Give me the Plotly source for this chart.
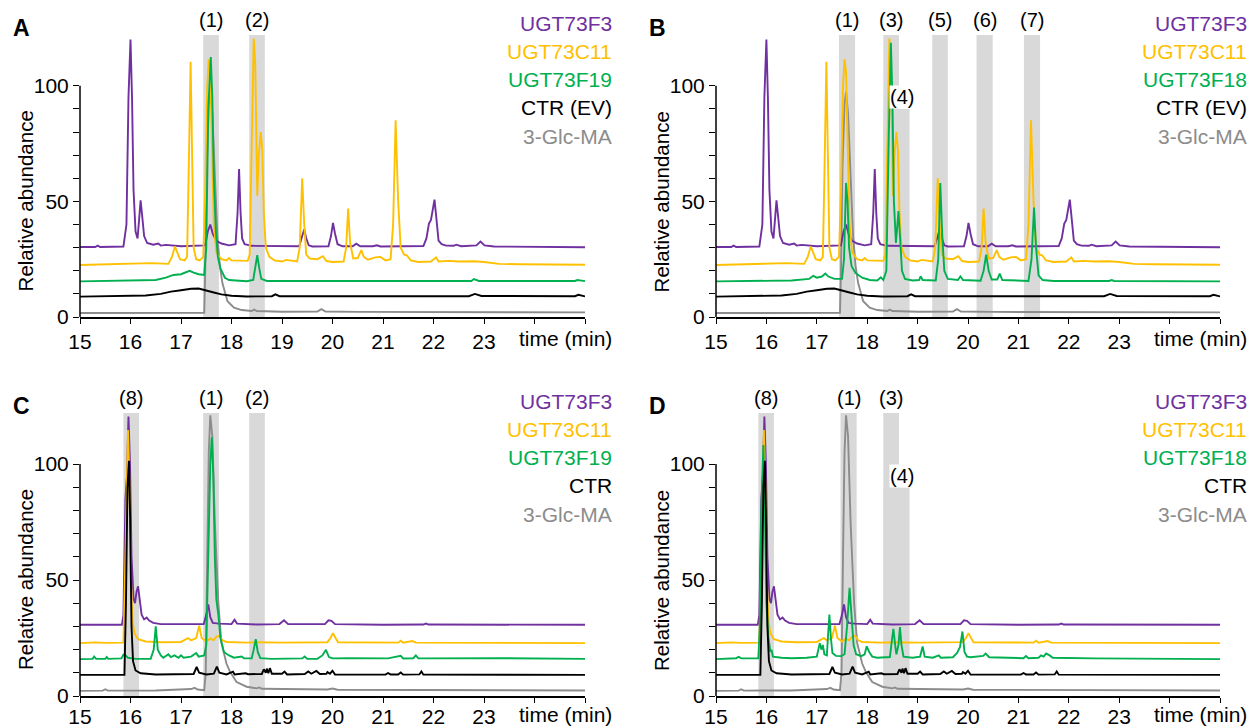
import plotly.graph_objects as go

# ---------------- axis ticks ----------------
TIME_TICKS = list(range(15, 26))
TIME_TICK_TEXT = [str(t) for t in range(15, 24)] + ["", ""]
ABUND_TICKS = list(range(0, 101, 10))
ABUND_TICK_TEXT = ["0", "", "", "", "", "50", "", "", "", "", "100"]

# ---------------- chromatogram points (time min, relative abundance incl. offset) ----------------
# Panels A & B share UGT73F3, UGT73C11, CTR (EV) and 3-Glc-MA traces
F3_AB = [(15.0, 30.3), (15.3, 30.3), (15.35, 30.9), (15.4, 30.3), (15.86, 30.5), (15.92, 40), (15.96, 95),
         (16.0, 120), (16.03, 95), (16.06, 55), (16.1, 37), (16.14, 34), (16.17, 42), (16.2, 50.5),
         (16.23, 44), (16.27, 35), (16.33, 32), (16.45, 31.3), (16.55, 31.8), (16.6, 30.9), (16.7, 31.2),
         (17.0, 30.6), (17.48, 31), (17.53, 37), (17.58, 40), (17.63, 36), (17.7, 33), (17.8, 31.8),
         (17.95, 31), (18.08, 31.5), (18.12, 45), (18.15, 64), (18.18, 45), (18.21, 34), (18.26, 31.5),
         (18.4, 30.8), (19.34, 30.6), (19.4, 35), (19.44, 38), (19.48, 34), (19.53, 31), (19.6, 30.5),
         (19.92, 30.6), (19.97, 35), (20.01, 40.7), (20.05, 36), (20.1, 31.5), (20.2, 30.6), (20.4, 30.6),
         (20.47, 31.7), (20.55, 30.6), (20.8, 30.6), (20.88, 31), (20.95, 30.5), (21.8, 30.7), (21.86, 34),
         (21.91, 40.4), (21.95, 42), (21.99, 48), (22.02, 50.8), (22.06, 42), (22.1, 33), (22.16, 31.5),
         (22.25, 30.9), (22.4, 30.8), (22.45, 31.3), (22.55, 30.6), (22.85, 31), (22.93, 32.6), (23.01, 31),
         (23.2, 30.5), (24.0, 30.4), (25.0, 30.2)]

C11_AB = [(15.0, 22.5), (15.5, 22.8), (16.0, 22.8), (16.4, 23.3), (16.75, 23.0), (16.82, 26), (16.88, 30.5),
          (16.93, 28), (16.98, 25), (17.07, 24.5), (17.12, 26), (17.15, 60), (17.19, 110.4), (17.22, 70),
          (17.25, 30), (17.3, 25), (17.37, 24.5), (17.44, 26), (17.48, 55), (17.52, 100), (17.55, 111.5),
          (17.58, 106), (17.61, 80), (17.65, 40), (17.7, 28), (17.8, 25), (17.9, 24.5), (17.95, 25.5),
          (18.0, 24.5), (18.32, 24.3), (18.36, 27), (18.4, 70), (18.44, 120.5), (18.47, 110), (18.49, 70),
          (18.51, 52.5), (18.54, 70), (18.58, 80), (18.61, 72), (18.64, 45), (18.68, 30), (18.75, 26),
          (18.85, 24.5), (19.0, 24), (19.08, 24.7), (19.3, 24), (19.35, 30), (19.4, 60), (19.44, 40),
          (19.48, 27), (19.55, 25.3), (19.7, 25), (19.81, 26.3), (19.88, 24.2), (20.0, 23.8), (20.22, 24),
          (20.27, 30), (20.31, 46.9), (20.35, 32), (20.41, 25.3), (20.5, 25.5), (20.57, 28.9), (20.62, 26),
          (20.7, 24.8), (20.85, 25.8), (20.95, 26), (21.05, 24.5), (21.15, 25), (21.2, 40), (21.25, 85.1),
          (21.3, 50), (21.35, 30), (21.42, 27), (21.47, 26.7), (21.55, 24.5), (21.7, 23.8), (21.95, 24),
          (22.05, 25.8), (22.1, 24), (22.3, 24.3), (22.5, 24), (22.8, 24.1), (23.0, 23.8), (23.3, 23),
          (23.7, 22.8), (24.2, 22.7), (25.0, 22.6)]

CTR_AB = [(15.0, 8.8), (15.5, 8.9), (16.0, 9.0), (16.3, 9.3), (16.6, 10), (16.8, 11), (17.0, 11.6),
          (17.2, 12.2), (17.35, 12.3), (17.5, 11.6), (17.65, 10.6), (17.8, 9.8), (18.0, 9.2), (18.3, 8.9),
          (18.8, 9.0), (18.87, 9.8), (18.95, 9.0), (20.8, 9.0), (22.7, 9.0), (22.82, 10), (22.95, 9.1),
          (24.8, 9.0), (24.87, 9.6), (25.0, 8.9)]

GLC_AB = [(15.0, 1.7), (17.0, 1.8), (17.46, 1.8), (17.48, 20), (17.51, 65), (17.55, 92), (17.58, 97.5),
          (17.62, 88), (17.66, 66), (17.72, 35), (17.77, 22), (17.82, 14.7), (17.92, 6.8), (18.05, 4),
          (18.2, 3), (18.4, 2.6), (18.45, 3.2), (18.5, 2.6), (19.0, 2.3), (19.7, 2.4), (19.78, 3.4),
          (19.86, 2.4), (20.5, 2.2), (25.0, 2.0)]

# Panel A: UGT73F19
F19_A = [(15.0, 15.4), (15.5, 15.5), (16.0, 15.6), (16.5, 16), (16.7, 17), (16.85, 18.2), (17.0, 18.5),
         (17.1, 19.5), (17.17, 20), (17.25, 19.2), (17.35, 18.5), (17.46, 18.2), (17.5, 30), (17.54, 90),
         (17.59, 112.5), (17.62, 95), (17.65, 60), (17.69, 37), (17.73, 26), (17.78, 21), (17.87, 17),
         (17.95, 16), (18.3, 15.5), (18.43, 16), (18.47, 22), (18.51, 26.8), (18.55, 21), (18.59, 16.5),
         (18.7, 15.6), (22.75, 15.6), (22.8, 16.4), (22.9, 15.6), (24.8, 15.6), (24.85, 16), (25.0, 15.5)]

# Panel B: UGT73F18
F18_B = [(15.0, 15.4), (16.0, 15.5), (16.5, 15.8), (16.85, 16.5), (16.93, 17.8), (17.0, 17), (17.1, 17.5),
         (17.17, 18.8), (17.23, 17.5), (17.35, 16.5), (17.5, 16.5), (17.54, 25), (17.56, 45), (17.58, 58),
         (17.61, 50), (17.64, 30), (17.69, 22), (17.77, 19), (17.9, 17), (18.05, 16), (18.2, 15.8),
         (18.27, 17.2), (18.32, 16), (18.38, 20), (18.43, 80), (18.47, 118.6), (18.5, 95), (18.53, 50),
         (18.57, 32), (18.6, 40), (18.62, 45.8), (18.65, 35), (18.69, 20), (18.75, 16.5), (18.9, 15.8),
         (19.03, 16), (19.06, 17.6), (19.1, 16), (19.36, 15.8), (19.41, 25), (19.45, 58), (19.49, 35),
         (19.53, 20), (19.6, 16.5), (19.8, 16), (19.85, 17.6), (19.9, 16), (20.25, 15.7), (20.31, 20),
         (20.36, 27), (20.41, 20), (20.47, 16.2), (20.58, 16.2), (20.63, 18.8), (20.68, 16), (21.2, 15.6),
         (21.26, 25), (21.31, 47.3), (21.35, 30), (21.4, 18), (21.48, 16), (21.7, 15.6), (22.8, 15.6),
         (22.85, 16), (22.9, 15.6), (25.0, 15.4)]

# Panels C & D share UGT73F3, UGT73C11, CTR and 3-Glc-MA traces
F3_CD = [(15.0, 30.7), (15.5, 30.8), (15.83, 30.7), (15.86, 35), (15.9, 85), (15.93, 95), (15.96, 120.5),
         (15.99, 100), (16.02, 60), (16.06, 42), (16.09, 40), (16.12, 45), (16.15, 47.3), (16.18, 42),
         (16.22, 35), (16.27, 33), (16.32, 33.8), (16.37, 32.5), (16.45, 31.5), (16.6, 31), (17.0, 30.9),
         (17.45, 31), (17.5, 35), (17.54, 39.5), (17.58, 34), (17.63, 31.5), (17.75, 31.2), (18.0, 31),
         (18.06, 32.9), (18.11, 31.2), (18.5, 30.8), (18.95, 31), (19.04, 32.6), (19.12, 31), (19.85, 31),
         (19.92, 32.6), (19.98, 32.4), (20.05, 31), (21.0, 30.7), (21.8, 30.8), (21.85, 31.2), (21.9, 30.8),
         (25.0, 30.7)]

C11_CD = [(15.0, 22.8), (15.3, 23.1), (15.5, 22.9), (15.86, 23), (15.9, 60), (15.95, 114.7), (15.98, 90),
          (16.01, 50), (16.04, 32), (16.08, 27), (16.15, 24.5), (16.3, 23.5), (16.6, 23.2), (17.0, 23.3),
          (17.14, 25), (17.2, 24), (17.3, 25), (17.36, 30.3), (17.41, 25), (17.5, 23.5), (17.58, 24.8),
          (17.64, 24), (17.7, 25.5), (17.76, 26), (17.82, 24), (17.9, 23.3), (18.3, 23), (18.5, 23.2),
          (19.0, 23), (19.5, 23), (19.9, 23.2), (19.96, 25), (20.01, 27.1), (20.06, 25), (20.11, 23.2),
          (21.3, 23), (21.35, 23.8), (21.4, 23), (21.58, 23.7), (21.65, 23), (25.0, 22.8)]

CTR_CD = [(15.0, 9.1), (15.5, 9.2), (15.88, 9.1), (15.91, 40), (15.94, 90), (15.97, 101.4), (15.99, 80),
          (16.02, 30), (16.05, 15), (16.1, 11), (16.2, 9.8), (16.5, 9.3), (17.0, 9.4), (17.25, 9.5),
          (17.31, 12.5), (17.36, 10), (17.5, 9.3), (17.65, 9.6), (17.71, 12.7), (17.76, 10), (17.9, 9.3),
          (18.03, 10.5), (18.06, 9.3), (18.28, 9.8), (18.33, 9.4), (18.6, 9.5), (18.64, 11.5), (18.68, 10),
          (18.7, 11.8), (18.73, 9.8), (18.76, 12), (18.8, 9.6), (19.0, 9.6), (19.05, 10.5), (19.1, 9.3),
          (19.45, 9.5), (19.52, 10.6), (19.58, 9.6), (19.68, 10.8), (19.75, 9.5), (19.88, 9.6), (19.9, 10.3),
          (19.95, 9.6), (20.0, 10.9), (20.05, 9.3), (21.05, 9.2), (21.1, 9.9), (21.15, 9.3), (21.3, 9.3),
          (21.35, 10.1), (21.4, 9.2), (21.72, 9.3), (21.76, 10.6), (21.8, 9.2), (25.0, 9.1)]

GLC_CD = [(15.0, 2.2), (15.45, 2.3), (15.5, 2.9), (15.55, 2.3), (16.5, 2.4), (17.0, 2.6), (17.2, 3.0),
          (17.27, 3.5), (17.33, 2.8), (17.46, 2.5), (17.49, 10), (17.52, 60), (17.55, 105), (17.58, 121),
          (17.62, 112), (17.67, 75), (17.74, 40), (17.8, 23), (17.9, 14), (17.97, 10.5), (18.1, 6),
          (18.3, 4), (18.5, 3.3), (18.55, 3.7), (18.6, 3.1), (19.9, 2.8), (20.0, 3.2), (20.1, 2.7),
          (25.0, 2.4)]

# Panel C: UGT73F19
F19_C = [(15.0, 15.9), (15.25, 16), (15.28, 17), (15.32, 16), (15.5, 16), (15.53, 16.8), (15.56, 16),
         (15.82, 16.2), (15.86, 17.8), (15.9, 17.5), (15.95, 16.5), (16.1, 16), (16.4, 16), (16.46, 20),
         (16.5, 30), (16.54, 20), (16.6, 17.5), (16.65, 16.5), (16.75, 18), (16.8, 16.8), (16.87, 17.5),
         (16.95, 16.5), (17.0, 17.5), (17.05, 16.5), (17.2, 17), (17.3, 18.5), (17.35, 17), (17.46, 17.5),
         (17.5, 22), (17.54, 60), (17.58, 100), (17.61, 111.5), (17.64, 95), (17.67, 60), (17.7, 41.6),
         (17.74, 35), (17.78, 25), (17.85, 19), (17.95, 17.5), (18.05, 16.5), (18.2, 17), (18.25, 16.2),
         (18.4, 16.2), (18.44, 20), (18.48, 24.5), (18.52, 19), (18.57, 16.3), (18.8, 16), (19.4, 16.2),
         (19.45, 17), (19.5, 16), (19.7, 16), (19.8, 17.5), (19.87, 19.9), (19.93, 16.8), (20.0, 16.2),
         (20.3, 16.3), (21.1, 16.2), (21.35, 17.3), (21.4, 16.2), (21.6, 16.3), (21.65, 17.5), (21.7, 16.2),
         (23.35, 16.3), (25.0, 16.0)]

# Panel D: UGT73F18
F18_D = [(15.0, 15.9), (15.4, 16.3), (15.45, 16.9), (15.5, 16.2), (15.84, 16.2), (15.87, 30), (15.9, 80),
         (15.94, 108.2), (15.97, 80), (16.0, 40), (16.04, 25), (16.08, 19), (16.1, 20), (16.13, 17),
         (16.3, 16.5), (16.5, 16.3), (16.8, 16.5), (17.0, 17), (17.03, 20), (17.06, 22.8), (17.09, 20),
         (17.12, 22), (17.15, 18), (17.2, 17.5), (17.22, 25), (17.25, 35.1), (17.28, 25), (17.31, 18.5),
         (17.38, 17.3), (17.48, 17.2), (17.55, 18), (17.6, 30), (17.65, 46.6), (17.69, 35), (17.73, 22),
         (17.78, 18), (17.88, 17.2), (17.95, 18), (17.99, 21.4), (18.04, 19), (18.1, 17), (18.2, 16.5),
         (18.45, 16.8), (18.49, 24), (18.52, 28.9), (18.56, 21), (18.58, 18), (18.62, 22), (18.65, 29.7),
         (18.68, 22), (18.72, 17), (18.9, 16.5), (19.05, 17), (19.1, 21.4), (19.14, 17), (19.3, 16.5),
         (19.42, 17.5), (19.46, 16.5), (19.7, 16.7), (19.78, 18.5), (19.84, 21), (19.89, 27.8), (19.93, 19),
         (19.98, 17), (20.05, 16.7), (20.3, 17.3), (20.35, 18.3), (20.42, 16.7), (21.1, 16.3), (21.15, 17.2),
         (21.2, 16.3), (21.4, 16.5), (21.45, 17.5), (21.5, 17), (21.55, 18.3), (21.62, 17.5), (21.68, 16.5),
         (22.5, 16.2), (25.0, 15.9)]

# ---------------- highlighted retention windows (start, end, label) ----------------
BANDS_A = [(17.44, 17.75, "(1)"), (18.35, 18.66, "(2)")]
BANDS_B = [(17.44, 17.76, "(1)"), (18.32, 18.63, "(3)"), (19.29, 19.6, "(5)"), (20.17, 20.49, "(6)"),
           (21.11, 21.43, "(7)")]
BANDS_C = [(15.86, 16.17, "(8)"), (17.44, 17.75, "(1)"), (18.35, 18.66, "(2)")]
BANDS_D = [(15.84, 16.15, "(8)"), (17.47, 17.79, "(1)"), (18.32, 18.63, "(3)")]
BAND4_B = (18.32, 18.84, 90, "(4)")
BAND4_D = (18.32, 18.84, 90, "(4)")

LEGEND_A = ["UGT73F3", "UGT73C11", "UGT73F19", "CTR (EV)", "3-Glc-MA"]
LEGEND_B = ["UGT73F3", "UGT73C11", "UGT73F18", "CTR (EV)", "3-Glc-MA"]
LEGEND_C = ["UGT73F3", "UGT73C11", "UGT73F19", "CTR", "3-Glc-MA"]
LEGEND_D = ["UGT73F3", "UGT73C11", "UGT73F18", "CTR", "3-Glc-MA"]

# ---------------- styling ----------------
W, H = 1252, 728
FONT = "Arial, 'Liberation Sans', Helvetica, sans-serif"
PURPLE, YELLOW, GREEN, BLACK, GREY = "#7030A0", "#FFC000", "#00B050", "#000000", "#8C8C8C"
LEG_COLORS = [PURPLE, YELLOW, GREEN, BLACK, GREY]
BAND_COLOR = "#D9D9D9"
YMAX = 122

def px(x):
    return x / W

def py(y):
    return 1 - y / H

panels = [
    dict(letter="A", xa="x", ya="y", left=80, right=585, top=35, bottom=317, lab_shift=0, xt_gap=21,
         traces=[(GLC_AB, GREY), (F3_AB, PURPLE), (C11_AB, YELLOW), (F19_A, GREEN), (CTR_AB, BLACK)],
         bands=BANDS_A, band4=None, legend=LEGEND_A),
    dict(letter="B", xa="x2", ya="y2", left=716, right=1220, top=35, bottom=317, lab_shift=0, xt_gap=21,
         traces=[(GLC_AB, GREY), (F3_AB, PURPLE), (C11_AB, YELLOW), (F18_B, GREEN), (CTR_AB, BLACK)],
         bands=BANDS_B, band4=BAND4_B, legend=LEGEND_B),
    dict(letter="C", xa="x3", ya="y3", left=80, right=585, top=413, bottom=696, lab_shift=-4, xt_gap=18,
         traces=[(GLC_CD, GREY), (F3_CD, PURPLE), (C11_CD, YELLOW), (F19_C, GREEN), (CTR_CD, BLACK)],
         bands=BANDS_C, band4=None, legend=LEGEND_C),
    dict(letter="D", xa="x4", ya="y4", left=716, right=1220, top=413, bottom=696, lab_shift=-4, xt_gap=18,
         traces=[(GLC_CD, GREY), (F3_CD, PURPLE), (C11_CD, YELLOW), (F18_D, GREEN), (CTR_CD, BLACK)],
         bands=BANDS_D, band4=BAND4_D, legend=LEGEND_D),
]

fig = go.Figure()
shapes = []
annotations = []
layout_axes = {}

for i, p in enumerate(panels):
    xa, ya = p["xa"], p["ya"]
    xname = "xaxis" if xa == "x" else "xaxis" + xa[1:]
    yname = "yaxis" if ya == "y" else "yaxis" + ya[1:]
    layout_axes[xname] = dict(
        domain=[px(p["left"]), px(p["right"])], anchor=ya, range=[15, 25], automargin=False,
        tickmode="array", tickvals=TIME_TICKS, ticktext=TIME_TICK_TEXT,
        ticks="outside", ticklen=5, tickwidth=1.4, tickcolor="black",
        ticklabelstandoff=p["lab_shift"],
        showline=True, linecolor="black", linewidth=1.5, showgrid=False, zeroline=False,
        tickfont=dict(family=FONT, size=21, color="black"), fixedrange=True,
    )
    layout_axes[yname] = dict(
        domain=[py(p["bottom"]), py(p["top"])], anchor=xa, range=[0, YMAX], automargin=False,
        tickmode="array", tickvals=ABUND_TICKS, ticktext=ABUND_TICK_TEXT,
        ticks="outside", ticklen=6, tickwidth=1.4, tickcolor="black",
        showline=False, showgrid=False, zeroline=False,
        tickfont=dict(family=FONT, size=21, color="black"), fixedrange=True,
    )
    # y axis line only from 0 to 100
    shapes.append(dict(type="line", xref=f"{xa} domain", yref=ya, x0=0, x1=0, y0=0, y1=100,
                       line=dict(color="black", width=1.5), layer="above"))
    # bands
    for (s, e, lab) in p["bands"]:
        shapes.append(dict(type="rect", xref=xa, yref=f"{ya} domain", x0=s, x1=e, y0=0, y1=1,
                           fillcolor=BAND_COLOR, line=dict(width=0), layer="below"))
        annotations.append(dict(x=(s + e) / 2, xref=xa, y=py(p["top"] - 15), yref="paper",
                                text=lab, showarrow=False, xanchor="center", yanchor="middle",
                                font=dict(family=FONT, size=20, color="black")))
    if p["band4"] is not None:
        s, e, top, lab = p["band4"]
        shapes.append(dict(type="rect", xref=xa, yref=ya, x0=s, x1=e, y0=0, y1=top,
                           fillcolor=BAND_COLOR, line=dict(width=0), layer="below"))
        annotations.append(dict(x=18.69, xref=xa, y=top + 5, yref=ya, text=lab, showarrow=False,
                                xanchor="center", yanchor="middle", bgcolor="white", borderpad=0,
                                font=dict(family=FONT, size=20, color="black")))
    # traces
    for pts, col in p["traces"]:
        t = [a for a, _ in pts]
        v = [b for _, b in pts]
        fig.add_trace(go.Scatter(x=t, y=v, mode="lines", xaxis=xa, yaxis=ya,
                                 line=dict(color=col, width=1.9), showlegend=False, hoverinfo="skip"))
    # panel letter
    annotations.append(dict(x=px(p["left"] - 59), y=py(p["top"] - 7), xref="paper", yref="paper",
                            text=f"<b>{p['letter']}</b>", showarrow=False, xanchor="center",
                            yanchor="middle", font=dict(family=FONT, size=23, color="black")))
    # y title
    y100 = p["bottom"] - 100 * (p["bottom"] - p["top"]) / YMAX
    annotations.append(dict(x=px(p["left"] - 55), y=py((p["bottom"] + y100) / 2),
                            xref="paper", yref="paper", text="Relative abundance", textangle=-90,
                            showarrow=False, xanchor="center", yanchor="middle",
                            font=dict(family=FONT, size=20.5, color="black")))
    # x title
    annotations.append(dict(x=px(p["right"] + 29), y=py(p["bottom"] + p["xt_gap"]), xref="paper",
                            yref="paper", text="time (min)", showarrow=False, xanchor="right",
                            yanchor="middle", font=dict(family=FONT, size=21, color="black")))
    # legend labels
    for k, (lab, col) in enumerate(zip(p["legend"], LEG_COLORS)):
        annotations.append(dict(x=px(p["right"] + 29), y=py(p["top"] - 12 + 28.3 * k), xref="paper",
                                yref="paper", text=lab, showarrow=False, xanchor="right",
                                yanchor="middle", font=dict(family=FONT, size=21, color=col)))

fig.update_layout(
    width=W, height=H, margin=dict(l=0, r=0, t=0, b=0, autoexpand=False),
    paper_bgcolor="white", plot_bgcolor="white",
    shapes=shapes, annotations=annotations, showlegend=False,
    **layout_axes,
)

PAGE_FIX = ("document.body.style.margin='0px';"
            "document.documentElement.style.overflow='hidden';"
            "document.body.style.overflow='hidden';")

fig.write_html("out.html", post_script=PAGE_FIX, config={"displayModeBar": False})
